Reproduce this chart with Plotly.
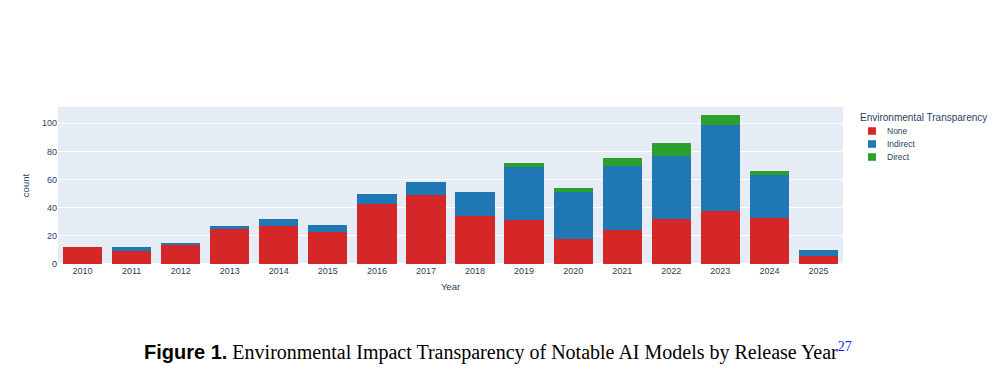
import plotly.graph_objects as go

years = [str(y) for y in range(2010, 2026)]
none_vals = [12, 9, 14, 25, 27, 23, 43, 49, 34, 31, 18, 24, 32, 38, 33, 6]
indirect_vals = [0, 3, 1, 2, 5, 5, 7, 9, 17, 38, 33, 46, 45, 61, 30, 4]
direct_vals = [0, 0, 0, 0, 0, 0, 0, 0, 0, 3, 3, 5, 9, 7, 3, 0]

series = [
    ("None", none_vals, "#d62728"),
    ("Indirect", indirect_vals, "#1f77b4"),
    ("Direct", direct_vals, "#2ca02c"),
]
legend_title = "Environmental Transparency"

SANS = "Liberation Sans, Arial, sans-serif"

fig = go.Figure()
for name, vals, color in series:
    fig.add_trace(go.Bar(x=years, y=vals, name=name, marker_color=color,
                         marker_line_width=0, showlegend=False))

fig.update_layout(
    width=992, height=364,
    barmode="stack",
    template="plotly",
    margin=dict(l=50, r=157, t=99, b=108),
    font=dict(family=SANS, size=9, color="#2a3f5f"),
    xaxis=dict(title=dict(text="Year", font=dict(size=9.5), standoff=8),
               type="category", tickfont=dict(size=9)),
    yaxis=dict(title=dict(text="count", font=dict(size=9.5), standoff=10),
               tickfont=dict(size=9), dtick=20),
    bargap=0.2,
    paper_bgcolor="white",
)

# compact legend (title + swatches) in paper coordinates
fig.add_annotation(xref="paper", yref="paper", x=1.0192, y=0.936,
                   xanchor="left", yanchor="middle", showarrow=False,
                   text=legend_title, font=dict(size=10, color="#2a3f5f"))
row_y = 0.847
row_step = 13 / 157
for i, (name, vals, color) in enumerate(series):
    yc = row_y - i * row_step
    fig.add_shape(type="rect", xref="paper", yref="paper",
                  x0=1.0318, x1=1.042, y0=yc - 0.024, y1=yc + 0.024,
                  fillcolor=color, line_width=0)
    fig.add_annotation(xref="paper", yref="paper", x=1.0535, y=yc,
                       xanchor="left", yanchor="middle", showarrow=False,
                       text=name, font=dict(size=8.5, color="#2a3f5f"))

fig.add_annotation(
    xref="paper", yref="paper", x=0.56, y=-0.56, xanchor="center", yanchor="middle",
    showarrow=False,
    text=('<span style="font-family:Liberation Sans, Arial"><b>Figure 1.</b></span> '
          'Environmental Impact Transparency '
          'of Notable AI Models by Release Year'
          '<span style="color:#1a1aff"><sup>27</sup></span>'),
    font=dict(size=20, color="black", family="Liberation Serif, Times New Roman, serif"),
)

fig.write_html("out.html")
